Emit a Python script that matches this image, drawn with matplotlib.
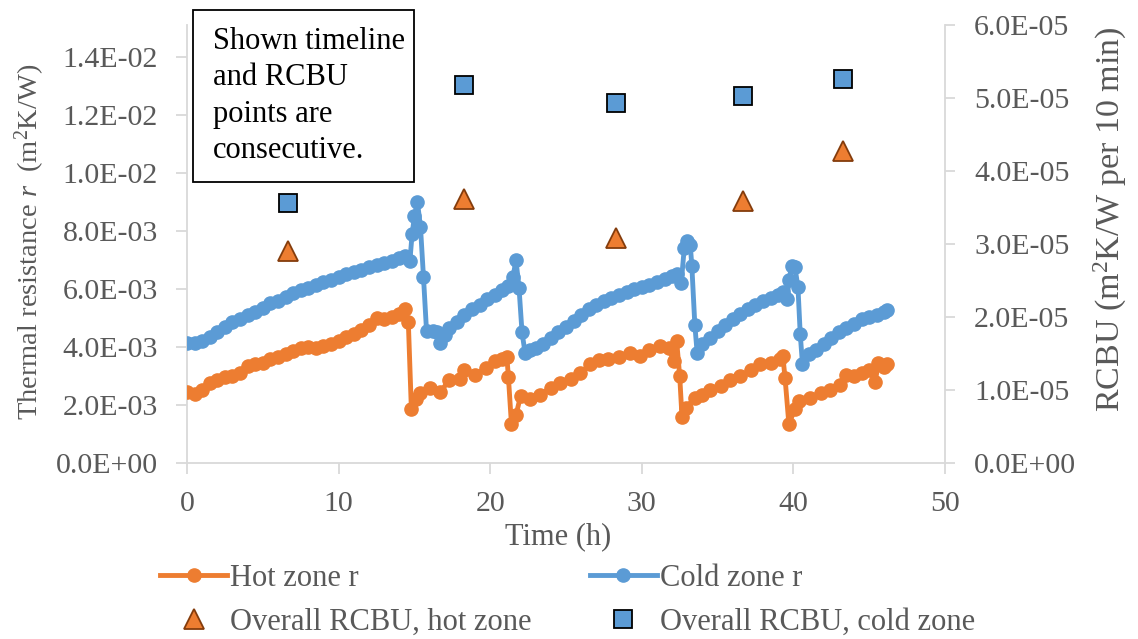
import matplotlib
matplotlib.use("Agg")
import matplotlib.pyplot as plt
from matplotlib.ticker import FuncFormatter, MultipleLocator
from matplotlib.patches import Rectangle
from matplotlib.lines import Line2D

plt.rcParams['font.family'] = ['Liberation Serif', 'DejaVu Serif']
plt.rcParams['mathtext.fontset'] = 'custom'
plt.rcParams['mathtext.rm'] = 'Liberation Serif'
plt.rcParams['mathtext.it'] = 'Liberation Serif:italic'

# thermal resistance, hot zone (time in h, r in 1E-3 m2K/W)
hot_t = [0.0, 0.5, 1.0, 1.5, 2.0, 2.5, 3.0, 3.5, 4.0, 4.5, 5.0, 5.5, 6.0, 6.5,
         7.0, 7.5, 8.0, 8.5, 9.0, 9.5, 10.0, 10.5, 11.0, 11.5, 12.0, 12.5,
         13.0, 13.5, 14.0, 14.4, 14.6, 14.8, 15.1, 15.4, 16.0, 16.7, 17.3,
         18.0, 18.3, 19.0, 19.7, 20.3, 20.8, 21.1, 21.2, 21.4, 21.7, 22.0,
         22.6, 23.3, 24.0, 24.6, 25.3, 25.9, 26.6, 27.2, 27.8, 28.5, 29.2,
         29.9, 30.5, 31.2, 31.8, 32.1, 32.3, 32.5, 32.65, 32.9, 33.5, 34.0,
         34.5, 35.2, 35.8, 36.5, 37.2, 37.8, 38.5, 39.1, 39.3, 39.45, 39.7,
         40.1, 40.4, 41.1, 41.8, 42.4, 43.1, 43.5, 44.0, 44.5, 45.0, 45.4,
         45.6, 46.0, 46.2]
hot_r = [2.45, 2.38, 2.5, 2.75, 2.85, 2.97, 3.0, 3.1, 3.35, 3.4, 3.45, 3.6,
         3.65, 3.75, 3.85, 3.95, 4.0, 3.98, 4.02, 4.1, 4.2, 4.35, 4.45, 4.6,
         4.75, 5.0, 4.95, 5.05, 5.15, 5.3, 4.85, 1.85, 2.2, 2.4, 2.6, 2.45,
         2.85, 2.9, 3.2, 3.05, 3.27, 3.5, 3.6, 3.65, 2.97, 1.35, 1.65, 2.3,
         2.2, 2.35, 2.6, 2.75, 2.9, 3.1, 3.4, 3.55, 3.6, 3.65, 3.78, 3.7,
         3.9, 4.05, 3.95, 3.5, 4.2, 3.0, 1.6, 1.9, 2.25, 2.35, 2.5, 2.65,
         2.85, 3.0, 3.2, 3.4, 3.45, 3.6, 3.7, 2.93, 1.35, 1.85, 2.15, 2.25,
         2.4, 2.5, 2.7, 3.05, 3.0, 3.1, 3.2, 2.8, 3.45, 3.3, 3.4]

# thermal resistance, cold zone
cold_t = [0.0, 0.5, 1.0, 1.5, 2.0, 2.5, 3.0, 3.5, 4.0, 4.5, 5.0, 5.5, 6.0,
          6.5, 7.0, 7.5, 8.0, 8.5, 9.0, 9.5, 10.0, 10.5, 11.0, 11.5, 12.0,
          12.5, 13.0, 13.5, 14.0, 14.4, 14.7, 14.85, 15.0, 15.2, 15.4, 15.6,
          15.8, 16.2, 16.5, 16.7, 17.0, 17.3, 17.8, 18.3, 18.8, 19.3, 19.8,
          20.3, 20.8, 21.2, 21.5, 21.7, 21.9, 22.1, 22.3, 22.6, 23.0, 23.5,
          24.0, 24.5, 25.0, 25.5, 26.0, 26.5, 27.0, 27.5, 28.0, 28.5, 29.0,
          29.5, 30.0, 30.5, 31.0, 31.5, 32.0, 32.3, 32.6, 32.8, 33.0, 33.2,
          33.3, 33.5, 33.65, 34.0, 34.5, 35.0, 35.5, 36.0, 36.5, 37.0, 37.5,
          38.0, 38.5, 39.0, 39.3, 39.6, 39.7, 39.9, 40.1, 40.3, 40.45, 40.6,
          41.0, 41.5, 42.0, 42.5, 43.0, 43.5, 44.0, 44.5, 45.0, 45.5, 46.0,
          46.2]
cold_r = [4.14, 4.12, 4.2, 4.35, 4.5, 4.7, 4.85, 4.98, 5.1, 5.22, 5.35, 5.5,
          5.6, 5.72, 5.85, 5.95, 6.05, 6.15, 6.25, 6.32, 6.42, 6.52, 6.6,
          6.67, 6.74, 6.82, 6.9, 6.98, 7.08, 7.15, 6.95, 7.9, 8.5, 9.0, 8.15,
          6.4, 4.55, 4.55, 4.5, 4.12, 4.4, 4.65, 4.85, 5.1, 5.3, 5.45, 5.65,
          5.8, 5.95, 6.1, 6.4, 7.0, 6.05, 4.5, 3.8, 3.9, 3.95, 4.1, 4.3, 4.5,
          4.7, 4.9, 5.1, 5.3, 5.45, 5.6, 5.7, 5.8, 5.9, 6.0, 6.07, 6.15, 6.25,
          6.35, 6.45, 6.5, 6.2, 7.4, 7.65, 7.5, 6.8, 4.75, 3.8, 4.1, 4.3,
          4.55, 4.75, 4.95, 5.15, 5.3, 5.45, 5.6, 5.7, 5.8, 5.9, 5.65, 6.3,
          6.8, 6.75, 6.07, 4.45, 3.4, 3.75, 3.9, 4.1, 4.3, 4.5, 4.65, 4.8,
          4.95, 5.05, 5.1, 5.2, 5.28]

# overall RCBU per cycle (1E-5 m2K/W per 10 min)
rcbu_t = [6.66, 18.3, 28.3, 36.7, 43.3]
rcbu_hot = [2.9, 3.62, 3.08, 3.59, 4.27]
rcbu_cold = [3.56, 5.18, 4.93, 5.03, 5.26]

ORANGE = '#ED7D31'
BLUE = '#5B9BD5'
GRID = '#D9D9D9'
TXT = '#595959'

W, H = 1138, 639
fig = plt.figure(figsize=(W / 100, H / 100), dpi=100)
ax = fig.add_axes([187 / W, 1 - 463 / H, (945 - 187) / W, (463 - 25) / H])
ax2 = ax.twinx()

ax.plot(hot_t, [v * 1e-3 for v in hot_r], color=ORANGE, lw=3.5,
        marker='o', ms=9.5, solid_joinstyle='round', zorder=3)
ax.plot(cold_t, [v * 1e-3 for v in cold_r], color=BLUE, lw=3.5,
        marker='o', ms=9.5, solid_joinstyle='round', zorder=3)

ax2.plot(rcbu_t, [v * 1e-5 for v in rcbu_hot], ls='none', marker='^',
         ms=14, mfc=ORANGE, mec='#843C0C', mew=1.3)
ax2.plot(rcbu_t, [v * 1e-5 for v in rcbu_cold], ls='none', marker='s',
         ms=12.5, mfc=BLUE, mec='black', mew=1.3)

ax.set_xlim(0, 50)
ax.set_ylim(0, 0.0151)
ax2.set_ylim(0, 6e-5)
ax.xaxis.set_major_locator(MultipleLocator(10))
ax.yaxis.set_major_locator(MultipleLocator(0.002))
ax2.yaxis.set_major_locator(MultipleLocator(1e-5))

sci = FuncFormatter(lambda v, p: f"{v:.1E}")
ax.yaxis.set_major_formatter(sci)
ax2.yaxis.set_major_formatter(sci)

for a in (ax, ax2):
    for s in a.spines.values():
        s.set_color(GRID)
        s.set_linewidth(1.3)
    a.spines['top'].set_visible(False)
ax.spines['right'].set_visible(False)
ax2.spines['left'].set_visible(False)
ax2.spines['bottom'].set_visible(False)

ax.tick_params(axis='y', length=8, width=1.3, color=GRID, labelcolor=TXT,
               labelsize=21.5, pad=13)
ax.tick_params(axis='x', length=8, width=1.3, color=GRID, labelcolor=TXT,
               labelsize=21.5, pad=12)
ax2.tick_params(axis='y', length=7, width=1.3, color=GRID, labelcolor=TXT,
                labelsize=21.5, pad=14)

fig.text(30 / W, 1 - 242 / H, 'Thermal resistance $\\mathit{r}$  (m$^{2}$K/W)',
         rotation=90, ha='center', va='center', fontsize=20.5, color=TXT)
fig.text(1110 / W, 1 - 219 / H, 'RCBU (m$^{2}$K/W per 10 min)',
         rotation=90, ha='center', va='center', fontsize=24.5, color=TXT)
fig.text(558 / W, 1 - 537 / H, 'Time (h)', ha='center', va='center',
         fontsize=22, color=TXT)

# note box
fig.patches.append(Rectangle((193 / W, 1 - 182 / H), (414 - 193) / W,
                             (182 - 10) / H, transform=fig.transFigure,
                             facecolor='white', edgecolor='black', lw=1.3,
                             zorder=5))
fig.text(213 / W, 1 - 27 / H, 'Shown timeline\nand RCBU\npoints are\nconsecutive.',
         ha='left', va='top', fontsize=22, color='black', linespacing=1.34,
         zorder=6)

handles = [
    Line2D([], [], color=ORANGE, lw=3.5, marker='o', ms=9.5),
    Line2D([], [], ls='none', marker='^', ms=14, mfc=ORANGE, mec='#843C0C', mew=1.3),
    Line2D([], [], color=BLUE, lw=3.5, marker='o', ms=9.5),
    Line2D([], [], ls='none', marker='s', ms=12.5, mfc=BLUE, mec='black', mew=1.3),
]
labels = ['Hot zone r', 'Overall RCBU, hot zone', 'Cold zone r',
          'Overall RCBU, cold zone']
leg = fig.legend(handles, labels, ncol=2, loc='upper left',
                 bbox_to_anchor=(160 / W, 1 - 564 / H), frameon=False,
                 fontsize=22, handlelength=2.2, handletextpad=0.1,
                 columnspacing=1.9, labelspacing=0.48, borderpad=0,
                 borderaxespad=0, numpoints=1)
for t in leg.get_texts():
    t.set_color(TXT)

fig.savefig('out.png', dpi=100)
